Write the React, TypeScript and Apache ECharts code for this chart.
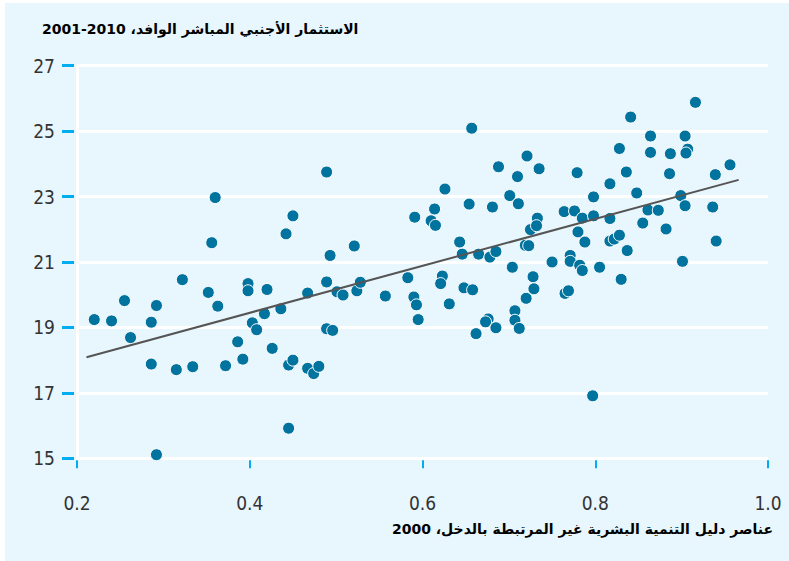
import React, { useEffect, useRef } from "react";
import * as echarts from "echarts";

const xValues = [
  0.22, 0.24, 0.255, 0.262, 0.286, 0.292, 0.286, 0.292, 0.315, 0.322,
  0.334, 0.352, 0.356, 0.36, 0.363, 0.372, 0.386, 0.392, 0.398, 0.398,
  0.403, 0.408, 0.417, 0.42, 0.426, 0.436, 0.442, 0.445, 0.445, 0.45,
  0.45, 0.467, 0.467, 0.474, 0.48, 0.489, 0.489, 0.489, 0.496, 0.493,
  0.501, 0.508, 0.521, 0.524, 0.528, 0.557, 0.583, 0.591, 0.59, 0.593,
  0.595, 0.61, 0.615, 0.614, 0.623, 0.621, 0.626, 0.631, 0.643, 0.646,
  0.648, 0.654, 0.657, 0.658, 0.665, 0.662, 0.678, 0.685, 0.681, 0.688,
  0.676, 0.673, 0.685, 0.701, 0.704, 0.707, 0.707, 0.712, 0.71, 0.711,
  0.719, 0.723, 0.72, 0.721, 0.725, 0.728, 0.729, 0.733, 0.732, 0.735,
  0.75, 0.764, 0.776, 0.765, 0.769, 0.771, 0.771, 0.779, 0.78, 0.782,
  0.785, 0.785, 0.788, 0.797, 0.798, 0.798, 0.805, 0.817, 0.817, 0.822,
  0.828, 0.817, 0.828, 0.83, 0.836, 0.837, 0.841, 0.848, 0.855, 0.861,
  0.873, 0.864, 0.864, 0.882, 0.886, 0.887, 0.899, 0.901, 0.904, 0.907,
  0.905, 0.904, 0.916, 0.936, 0.939, 0.94, 0.956
];

const yValues = [
  19.24, 19.2, 19.82, 18.69, 19.16, 19.67, 17.88, 15.11, 17.71, 20.46,
  17.8, 20.07, 21.59, 22.97, 19.65, 17.83, 18.56, 18.03, 20.34, 20.12,
  19.14, 18.93, 19.42, 20.16, 18.36, 19.57, 21.86, 15.92, 17.85, 18.0,
  22.41, 20.05, 17.75, 17.59, 17.81, 23.75, 20.39, 18.96, 18.91, 21.2,
  20.09, 19.99, 21.49, 20.12, 20.38, 19.96, 20.52, 22.37, 19.93, 19.69,
  19.24, 22.26, 22.12, 22.62, 20.57, 20.34, 23.23, 19.72, 21.61, 21.24,
  20.21, 22.77, 25.09, 20.15, 21.24, 18.81, 21.15, 21.32, 22.68, 23.91,
  19.26, 19.17, 18.99, 23.03, 20.84, 19.51, 19.22, 18.97, 23.61, 22.78,
  21.51, 21.5, 19.89, 24.24, 21.99, 20.55, 20.18, 22.34, 22.11, 23.85,
  21.0, 22.54, 22.56, 20.04, 20.12, 21.2, 21.02, 23.73, 21.92, 20.9,
  20.74, 22.34, 21.61, 16.91, 22.99, 22.41, 20.84, 22.33, 21.64, 21.7,
  21.82, 23.39, 24.47, 20.47, 23.75, 21.35, 25.43, 23.11, 22.19, 22.59,
  22.58, 24.85, 24.35, 22.01, 23.7, 24.31, 23.03, 21.02, 24.85, 24.45,
  24.33, 22.72, 25.88, 22.68, 23.67, 21.64, 23.97
];

const trendX = [0.211, 0.966];
const trendY = [18.09, 23.51];

const xAxisMin = 0.2;
const xAxisMax = 1.0;
const xAxisStep = 0.2;
const yAxisMin = 15;
const yAxisMax = 27;
const yAxisStep = 2;

const TITLE = "الاستثمار الأجنبي المباشر الوافد، 2010-2001";
const X_TITLE = "عناصر دليل التنمية البشرية غير المرتبطة بالدخل، 2000";

const RLE = "\u202B";
const PDF = "\u202C";

const NARROW = "'Liberation Sans Narrow', 'DejaVu Sans Condensed', sans-serif";
const ARABIC = "'DejaVu Sans', sans-serif";
const TICK_BLUE = "#00AEEF";
const DOT = "#00739E";

export default function App() {
  const ref = useRef<HTMLDivElement>(null);

  useEffect(() => {
    if (!ref.current) return;
    const chart = echarts.init(ref.current, undefined, { renderer: "svg" });
    const points = xValues.map((x, i) => [x, yValues[i]]);
    const trend = trendX.map((x, i) => [x, trendY[i]]);
    chart.setOption({
      animation: false,
      backgroundColor: "transparent",
      title: {
        text: RLE + TITLE + PDF,
        left: 42,
        top: 22,
        padding: 0,
        textStyle: {
          fontFamily: ARABIC,
          fontWeight: "bold",
          fontSize: 14,
          color: "#000",
        },
      },
      grid: { left: 77, right: 21, top: 65.7, bottom: 102.7 },
      xAxis: {
        type: "value",
        min: xAxisMin,
        max: xAxisMax,
        interval: xAxisStep,
        offset: 2,
        axisLine: { show: false },
        axisTick: { show: true, length: 8, lineStyle: { color: TICK_BLUE, width: 2 } },
        axisLabel: {
          margin: 33,
          fontSize: 19,
          fontFamily: NARROW,
          color: "#333",
          formatter: (v: number) => v.toFixed(1),
        },
        splitLine: { show: false },
      },
      yAxis: [
        {
          type: "value",
          position: "left",
          min: yAxisMin,
          max: yAxisMax,
          interval: yAxisStep,
          offset: 3,
          axisLine: { show: false },
          axisTick: { show: true, length: 12, lineStyle: { color: TICK_BLUE, width: 3 } },
          axisLabel: { margin: 19, fontSize: 19, fontFamily: NARROW, color: "#333" },
          splitLine: { show: true, lineStyle: { color: "#ffffff", width: 3 } },
        },
        {
          type: "value",
          position: "left",
          min: yAxisMin,
          max: yAxisMax,
          interval: yAxisStep,
          offset: 0,
          axisLine: { show: true, lineStyle: { color: "#ffffff", width: 3 } },
          axisTick: { show: false },
          axisLabel: { show: false },
          splitLine: { show: false },
        },
      ],
      graphic: [
        {
          type: "text",
          right: 16,
          top: 522,
          style: {
            text: RLE + X_TITLE + PDF,
            font: "bold 14px " + ARABIC,
            fill: "#000",
          },
        },
      ],
      series: [
        {
          type: "scatter",
          data: points,
          symbolSize: 12,
          z: 2,
          itemStyle: { color: DOT, borderColor: "#ffffff", borderWidth: 1, opacity: 1 },
        },
        {
          type: "line",
          data: trend,
          showSymbol: false,
          z: 3,
          lineStyle: { color: "#555555", width: 2 },
        },
      ],
    });
    return () => chart.dispose();
  }, []);

  return (
    <div style={{ position: "fixed", left: 0, top: 0, width: 789, height: 561, background: "#ffffff" }}>
      <div style={{ position: "absolute", left: 5, top: 3, right: 0, bottom: 0, background: "#E8F6FD" }} />
      <div ref={ref} style={{ position: "absolute", left: 0, top: 0, width: 789, height: 561 }} />
    </div>
  );
}
